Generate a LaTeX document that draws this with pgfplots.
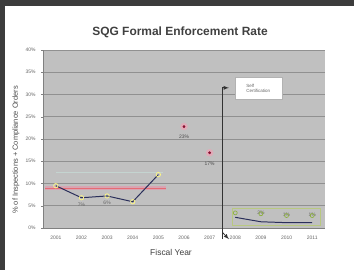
\documentclass[border=0pt]{standalone}
\usepackage{pgfplots}
\pgfplotsset{compat=1.18}
\usepackage{fontspec}
\setmainfont{Liberation Sans}
\definecolor{plotgray}{HTML}{C0C0C0}
\definecolor{gridgray}{HTML}{909090}
\definecolor{frame}{HTML}{3C3C3C}
\definecolor{navy}{HTML}{2A2F5A}
\definecolor{pinkband}{HTML}{D8A4B2}
\definecolor{dotred}{HTML}{8A1030}
\definecolor{halo}{HTML}{E8A8B8}
\definecolor{lgreen}{HTML}{B8C880}
\definecolor{mgreen}{HTML}{8DB040}
\definecolor{lcyan}{HTML}{C4D4D0}
\begin{document}
\begin{tikzpicture}[x=1bp,y=1bp]
\fill[frame] (0,0) rectangle (354,270);
\fill[white] (5,0) rectangle (354,264);
\begin{axis}[
  at={(43bp,42bp)}, anchor=south west, scale only axis,
  width=282bp, height=178bp,
  xmin=0.5, xmax=11.5, ymin=0, ymax=40,
  xtick={1,2,3,4,5,6,7,8,9,10,11},
  xticklabels={2001,2002,2003,2004,2005,2006,2007,2008,2009,2010,2011},
  ytick={0,5,10,15,20,25,30,35,40},
  yticklabel={\pgfmathprintnumber{\tick}\%},
  /pgf/number format/assume math mode=true,
  axis background/.style={fill=plotgray},
  ymajorgrids, grid style={gridgray, line width=0.8pt},
  axis x line*=bottom, axis y line*=left,
  axis line style={gray, line width=0.6pt},
  tick style={gray}, tick align=outside,
  major tick length=2bp,
  xtick style={draw=none},
  tick label style={font=\fontsize{5}{6}\selectfont, text=black!60},
  xticklabel style={yshift=-3bp},
  yticklabel style={xshift=-2bp},
  clip=false,
]
% faint series
\addplot[lcyan, line width=0.8pt, forget plot] coordinates {(1,12.6) (5.2,12.6)};
% target band
\addplot[pinkband, line width=4pt, forget plot] coordinates {(0.58,9) (5.3,9)};
\addplot[red!35!pinkband, line width=0.6pt, forget plot] coordinates {(0.58,9) (5.3,9)};
% main series 2001-2005
\addplot[navy, line width=1pt, mark=o, mark size=2.2pt,
  mark options={draw=yellow!50!white, line width=0.7pt}] coordinates {
  (1,9.5) (2,6.8) (3,7.2) (4,5.9) (5,12)};
% 2006-2007 points
\addplot[only marks, mark=*, mark size=3.5pt, halo, opacity=0.8] coordinates {(6,22.8) (7,16.9)};
\addplot[only marks, mark=*, mark size=1.2pt, dotred] coordinates {(6,22.8) (7,16.9)};
% after self-certification
\addplot[lgreen, line width=0.7pt] coordinates {(7.9,4.5) (11.3,4.5) (11.3,0.5) (7.9,0.5) (7.9,4.5)};
\addplot[navy, line width=1pt] coordinates {(8,2.4) (9,1.4) (10,1.2) (11,1.2)};
\addplot[only marks, mark=o, mark size=2pt, mark options={draw=mgreen, line width=0.7pt}] coordinates {(8,3.4) (9,3.2) (10,2.8) (11,2.8)};
% labels
\node[font=\fontsize{5}{6}\selectfont, text=black!60] at (axis cs:2,5.2) {7\%};
\node[font=\fontsize{5}{6}\selectfont, text=black!60] at (axis cs:3,5.6) {6\%};
\node[font=\fontsize{5}{6}\selectfont, text=black!70] at (axis cs:6,20.4) {23\%};
\node[font=\fontsize{5}{6}\selectfont, text=black!70] at (axis cs:7,14.5) {17\%};
\node[font=\fontsize{5}{6}\selectfont, text=black!60] at (axis cs:9,3.4) {2\%};
\node[font=\fontsize{5}{6}\selectfont, text=black!60] at (axis cs:10,3.0) {1\%};
\node[font=\fontsize{5}{6}\selectfont, text=black!60] at (axis cs:11,3.0) {1\%};
% self certification marker
\draw[black!80, line width=1pt] (axis cs:7.5,-2.5) -- (axis cs:7.5,31.5);
\draw[black!80, line width=0.8pt, -latex] (axis cs:7.5,31.5) -- (axis cs:7.75,31.5);
\draw[black!80, line width=0.8pt, -latex] (axis cs:7.5,-1) -- (axis cs:7.75,-2.5);
\node[draw=gray!60, fill=white, align=left, font=\fontsize{4.5}{5}\selectfont, text=black!60,
  minimum width=47bp, minimum height=22bp, anchor=north west, inner sep=2bp] at (axis cs:7.97,33.9) {Self\\Certification};
\end{axis}
\node[font=\bfseries\fontsize{12}{14}\selectfont, text=black!75] at (180,238) {SQG Formal Enforcement Rate};
\node[font=\fontsize{8.5}{10}\selectfont, text=black!75] at (171,18) {Fiscal Year};
\node[rotate=90, font=\fontsize{7.5}{9}\selectfont, text=black!70] at (16,120) {\% of Inspections + Compliance Orders};
\end{tikzpicture}
\end{document}
